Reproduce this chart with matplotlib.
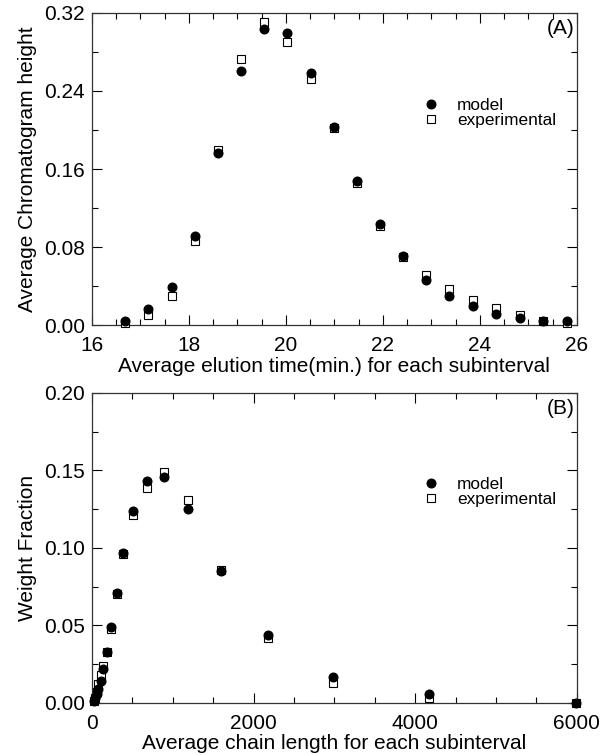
import matplotlib.pyplot as plt
from matplotlib.ticker import MultipleLocator, FormatStrFormatter

plt.rcParams['font.family'] = ['Liberation Sans', 'DejaVu Sans']

# (A) elution time vs chromatogram height
tiempo = [16.68, 17.16, 17.65, 18.12, 18.59, 19.07, 19.55, 20.03, 20.51, 20.99,
          21.46, 21.94, 22.42, 22.89, 23.37, 23.86, 24.34, 24.82, 25.30, 25.80]
altura_modelo = [0.004, 0.016, 0.039, 0.091, 0.176, 0.261, 0.304, 0.299, 0.258, 0.203,
                 0.148, 0.104, 0.071, 0.046, 0.030, 0.020, 0.011, 0.007, 0.004, 0.004]
altura_exp = [0.002, 0.010, 0.030, 0.086, 0.179, 0.273, 0.311, 0.290, 0.252, 0.202,
              0.146, 0.102, 0.070, 0.051, 0.037, 0.026, 0.017, 0.010, 0.004, 0.002]

# (B) chain length vs weight fraction
cadeia = [20, 38, 57, 78, 108, 140, 181, 231, 305, 388, 511, 676, 891, 1183,
          1592, 2173, 2986, 4169, 5990]
fracao_modelo = [0.001, 0.003, 0.006, 0.009, 0.014, 0.022, 0.033, 0.049, 0.071, 0.097,
                 0.124, 0.143, 0.146, 0.125, 0.085, 0.044, 0.017, 0.006, 0.000]
fracao_exp = [0.001, 0.003, 0.007, 0.012, 0.018, 0.024, 0.033, 0.048, 0.070, 0.096,
              0.121, 0.139, 0.149, 0.131, 0.086, 0.042, 0.013, 0.003, 0.000]


def desenha(ax, x, y_mod, y_exp, letra):
    ax.plot(x, y_exp, 's', ms=5.2, mfc='white', mec='black', mew=0.8,
            label='experimental', clip_on=False, zorder=3)
    ax.plot(x, y_mod, 'o', ms=6.2, mfc='black', mec='black',
            label='model', clip_on=False, zorder=4)
    ax.tick_params(which='both', direction='in', top=True, right=True,
                   labelsize=15, pad=5, width=0.8)
    ax.tick_params(axis='x', which='both', pad=8)
    ax.tick_params(which='major', length=7)
    ax.tick_params(which='minor', length=4)
    for s in ax.spines.values():
        s.set_linewidth(0.9)
        s.set_color('#333333')
    handles, labels = ax.get_legend_handles_labels()
    ax.legend(handles[::-1], labels[::-1], loc='center left',
              bbox_to_anchor=(0.664, 0.68), frameon=False, fontsize=12.4,
              handletextpad=1.0, labelspacing=0.0, borderpad=0,
              handlelength=1.0)
    ax.text(0.995, 0.98, letra, transform=ax.transAxes, ha='right', va='top',
            fontsize=15)


fig = plt.figure(figsize=(6.03, 7.55), dpi=100)
ax1 = fig.add_axes([0.1526, 0.5695, 0.804, 0.4133])
ax2 = fig.add_axes([0.1526, 0.0689, 0.804, 0.4106])

desenha(ax1, tiempo, altura_modelo, altura_exp, '(A)')
ax1.set_xlim(16, 26)
ax1.set_ylim(0, 0.32)
ax1.xaxis.set_major_locator(MultipleLocator(2))
ax1.xaxis.set_minor_locator(MultipleLocator(0.5))
ax1.yaxis.set_major_locator(MultipleLocator(0.08))
ax1.yaxis.set_minor_locator(MultipleLocator(0.04))
ax1.yaxis.set_major_formatter(FormatStrFormatter('%.2f'))
ax1.set_xlabel('Average elution time(min.) for each subinterval', fontsize=15, labelpad=1)
ax1.set_ylabel('Average Chromatogram height', fontsize=15, labelpad=5)

desenha(ax2, cadeia, fracao_modelo, fracao_exp, '(B)')
ax2.set_xlim(0, 6000)
ax2.set_ylim(0, 0.20)
ax2.xaxis.set_major_locator(MultipleLocator(2000))
ax2.xaxis.set_minor_locator(MultipleLocator(500))
ax2.yaxis.set_major_locator(MultipleLocator(0.05))
ax2.yaxis.set_minor_locator(MultipleLocator(0.025))
ax2.yaxis.set_major_formatter(FormatStrFormatter('%.2f'))
ax2.set_xlabel('Average chain length for each subinterval', fontsize=15, labelpad=1)
ax2.set_ylabel('Weight Fraction', fontsize=15, labelpad=5)

fig.savefig('out.png', dpi=100)
